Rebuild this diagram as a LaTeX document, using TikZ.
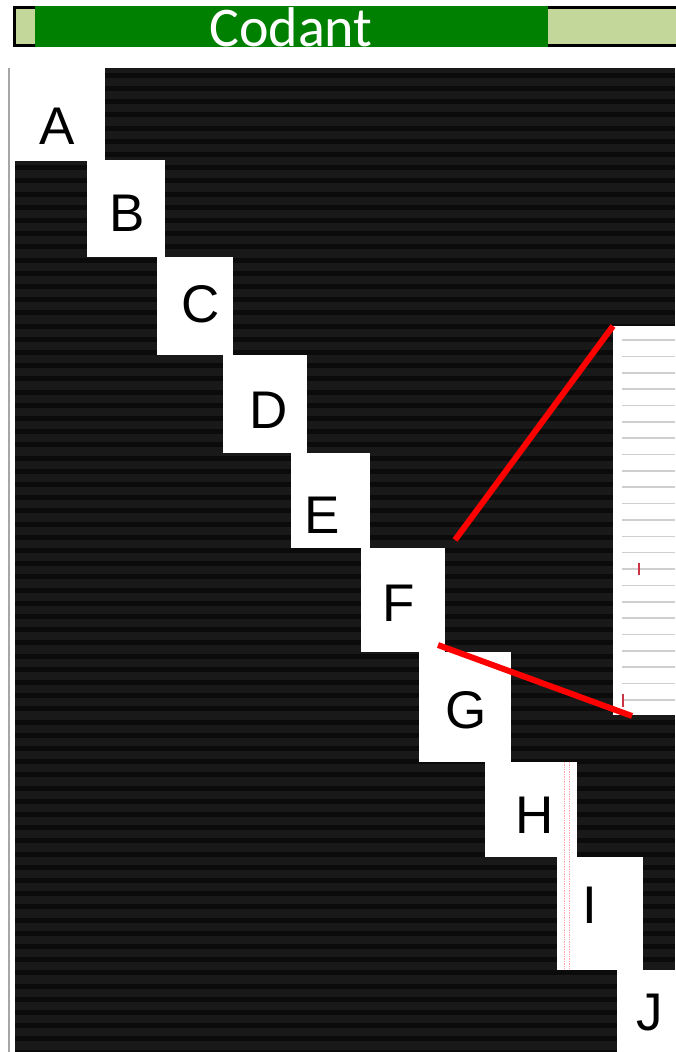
\documentclass[tikz,border=0pt]{standalone}
\usepackage{fontspec}
\setmainfont{Liberation Sans}
\newfontfamily\calibfont{Carlito}
\definecolor{lightgr}{HTML}{C4D79B}
\definecolor{darkgr}{HTML}{008000}
\definecolor{field}{HTML}{191919}
\definecolor{stripe}{HTML}{0B0B0B}
\definecolor{insetline}{HTML}{CFCFCF}
\definecolor{markred}{HTML}{CC3344}
\begin{document}
\begin{tikzpicture}[x=1pt,y=-1pt,
  blk/.style={fill=white,draw=none,inner sep=0pt},
  letter/.style={inner sep=0pt,font=\fontsize{53}{53}\selectfont,text=black},
  zoomline/.style={red,line width=6pt},
  gridline/.style={insetline,line width=1.6pt},
  smallmark/.style={markred,line width=2pt}]
\useasboundingbox (0,0) rectangle (675,1052);
\fill[white] (0,0) rectangle (675,1052);
% top bar
\draw[black,line width=3pt,fill=lightgr] (14,7) rectangle (680,45);
\fill[darkgr] (35,5.5) rectangle (548,46.5);
\node[text=white,inner sep=0pt,font=\calibfont\fontsize{56}{56}\selectfont,anchor=base] (title) at (291,46) {Codant};
% left gray line
\draw[gray!70,line width=2pt] (9,68) -- (9,1052);
% dark field with stripes
\fill[field] (15,68) rectangle (675,1052);
\foreach \i in {0,...,74}{
  \fill[stripe] (15,{72.8+13.2*\i}) rectangle (675,{77.8+13.2*\i});
}
% staircase blocks
\fill[white] (10,68) rectangle (105,161);
\fill[white] (87,160) rectangle (165,257);
\fill[white] (157,257) rectangle (233,355);
\fill[white] (223,355) rectangle (307,453);
\fill[white] (291,453) rectangle (370,548);
\node[blk,minimum width=84pt,minimum height=104pt] (Fb) at (402.5,600) {};
\fill[white] (419,652) rectangle (511,762);
\fill[white] (485,762) rectangle (577,857);
\fill[white] (557,857) rectangle (643,970);
\fill[white] (617,970) rectangle (675,1052);
% pink dotted lines through H and I
\draw[red!35,line width=0.7pt,densely dotted] (564,762) -- (564,969);
\draw[red!35,line width=0.7pt,densely dotted] (569,762) -- (569,969);
% letters
\node[letter] (A) at (57,126) {A};
\node[letter] (B) at (127,213) {B};
\node[letter] (C) at (201,304) {C};
\node[letter] (D) at (269,410) {D};
\node[letter] (E) at (322,515) {E};
\node[letter] (F) at (399,603) {F};
\node[letter] (G) at (466,710) {G};
\node[letter] (H) at (535,815) {H};
\node[letter] (I) at (590,905) {I};
\node[letter] (J) at (650,1013) {J};
% inset
\node[blk,minimum width=64pt,minimum height=389pt,anchor=north west] (inset) at (613,326) {};
\foreach \k in {0,...,22}{
  \draw[gridline] (622,{340+16.36*\k}) -- (675,{340+16.36*\k});
}
\draw[smallmark] (639,563) -- (639,575);
\draw[smallmark] (623,694) -- (623,707);
% zoom lines
\coordinate (f1) at (455,540);
\coordinate (f2) at (438,645);
\coordinate (i2) at (632,716);
\draw[zoomline] (f1) -- (inset.north west);
\draw[zoomline] (f2) -- (i2);
\end{tikzpicture}
\end{document}
